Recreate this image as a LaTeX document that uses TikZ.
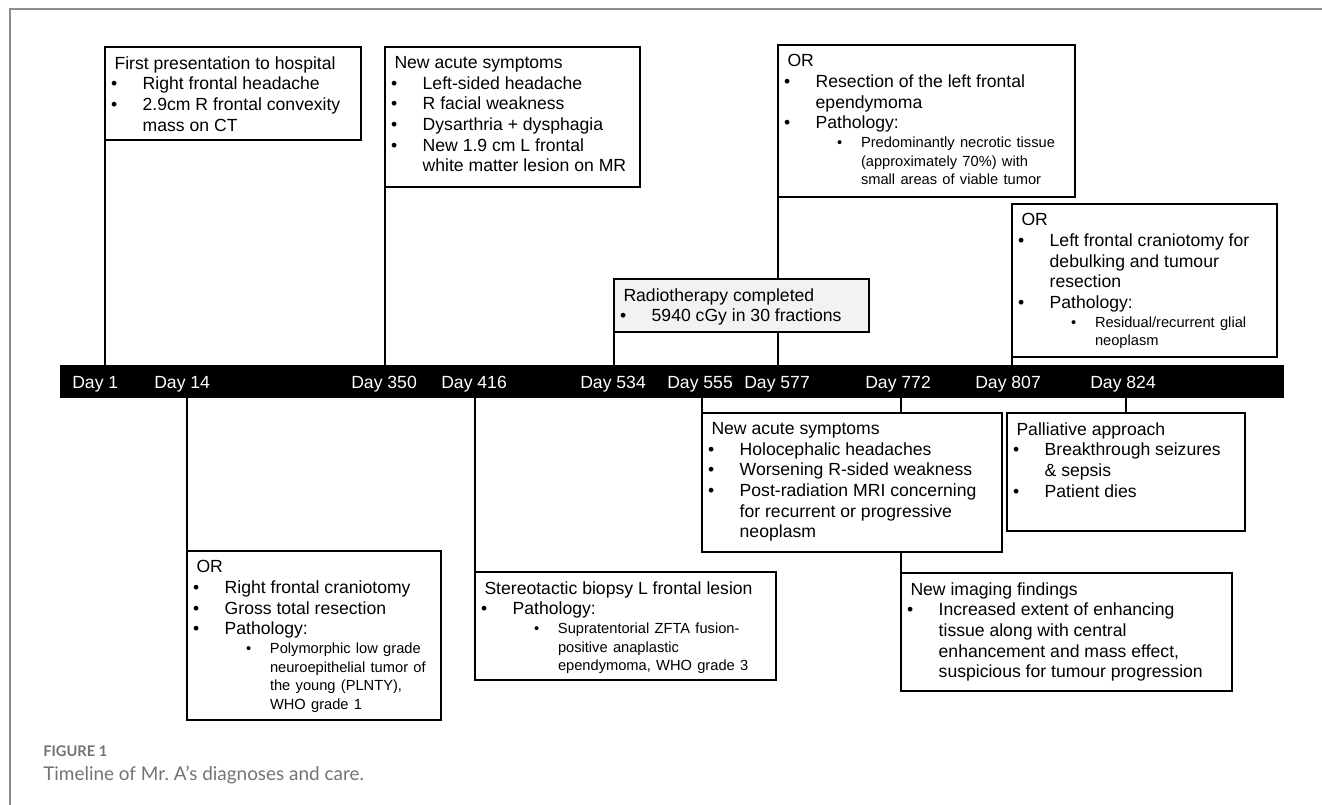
\documentclass[tikz,border=0pt]{standalone}
\usepackage{fontspec}
\setmainfont{Liberation Sans}
\newfontfamily\capfont{Lato}
\usepackage{tikz}
\usetikzlibrary{positioning,backgrounds}
\definecolor{myframe}{RGB}{140,140,140}
\definecolor{mycap}{RGB}{115,115,115}
\definecolor{myfill}{RGB}{242,242,242}

\newlength\px \setlength\px{0.75pt}
\newlength\bulw \setlength\bulw{31.7\px}
\newlength\subbw \setlength\subbw{53\px}
\newlength\subtw \setlength\subtw{77\px}
\newcommand\mainsize{\fontsize{13.2pt}{15.5pt}\selectfont}
\newcommand\subsize{\fontsize{11pt}{14pt}\selectfont}
\newcommand\boxtext[3]{\parbox[t][#2\px][t]{#1\px}{\mainsize\vspace*{9.5\px}\raggedright\leftskip=6\px\rightskip=0pt plus 2em minus 10\px\noindent\hspace*{3.5\px}#3\par}}
\newcommand\itm[1]{\par\hangindent=\bulw\hangafter=1\noindent\makebox[\bulw][l]{\textbullet}#1}
\newcommand\subitm[1]{\par\begingroup\subsize\spaceskip=0.36em plus 0.2em\hangindent=\subtw\hangafter=1\noindent\hspace*{\subbw}\makebox[\dimexpr\subtw-\subbw\relax][l]{\textbullet}#1\par\endgroup}

\tikzset{
		eventBox/.style = {draw, line width=2pt, fill=white, inner sep=0pt, outer sep=0pt, anchor=north west},
		radioBox/.style = {eventBox, fill=myfill},
		dayLabel/.style = {text=white, inner sep=0pt, anchor=base west, font=\mainsize},
		linkStyle/.style = {line width=1.5pt},
		frameLine/.style = {line width=0.8pt, color=myframe}
}

\begin{document}
\begin{tikzpicture}[x=0.75pt, y=-0.75pt]
  \useasboundingbox (0,0) rectangle (1322,805);
  \draw[frameLine] (10,805) -- (10,9) -- (1322,9);

  % timeline bar
  \node[fill=black, minimum width=1224\px, minimum height=33\px, inner sep=0pt, outer sep=0pt, anchor=north west] (bar) at (60,365) {};
  \foreach \x/\d in {72/1, 154/14, 351/350, 441/416, 580/534, 667/555, 744/577, 865/772, 975/807, 1090/824}
     \node[dayLabel] (day\d) at (\x,389) {Day \d};

  % above the bar
  \node[eventBox] (first) at (105,47) {\boxtext{256}{93}{First presentation to hospital
     \itm{Right frontal headache}
     \itm{2.9cm R frontal convexity\newline mass on CT}}};
  \node[eventBox] (acuteA) at (385,47) {\boxtext{255}{140}{New acute symptoms
     \itm{Left-sided headache}
     \itm{R facial weakness}
     \itm{Dysarthria + dysphagia}
     \itm{New 1.9 cm L frontal\newline white matter lesion on MR}}};
  \node[eventBox] (resect) at (778,45) {\boxtext{297}{152}{OR
     \itm{Resection of the left frontal\newline ependymoma}
     \itm{Pathology:}
     \subitm{Predominantly necrotic tissue\newline (approximately 70\%) with\newline small areas of viable tumor}}};
  \node[radioBox] (radio) at (614,279) {\boxtext{255}{53}{Radiotherapy completed
     \itm{5940 cGy in 30 fractions}}};
  \node[eventBox] (craniB) at (1012,204) {\boxtext{265}{153}{OR
     \itm{Left frontal craniotomy for\newline debulking and tumour\newline resection}
     \itm{Pathology:}
     \subitm{Residual/recurrent glial\newline neoplasm}}};

  % below the bar
  \node[eventBox] (craniA) at (187,551) {\boxtext{254}{169}{OR
     \itm{Right frontal craniotomy}
     \itm{Gross total resection}
     \itm{Pathology:}
     \subitm{Polymorphic low grade\newline neuroepithelial tumor of\newline the young (PLNTY),\newline WHO grade 1}}};
  \node[eventBox] (biopsy) at (475,572) {\boxtext{301}{108}{Stereotactic biopsy L frontal lesion
     \itm{Pathology:}
     \subitm{Supratentorial ZFTA fusion-\newline positive anaplastic\newline ependymoma, WHO grade 3}}};
  \node[eventBox] (acuteB) at (702,413) {\boxtext{300}{139}{New acute symptoms
     \itm{Holocephalic headaches}
     \itm{Worsening R-sided weakness}
     \itm{Post-radiation MRI concerning\newline for recurrent or progressive\newline neoplasm}}};
  \node[eventBox] (palli) at (1007,413) {\boxtext{238}{118}{Palliative approach
     \itm{Breakthrough seizures\newline \& sepsis}
     \itm{Patient dies}}};
  \node[eventBox] (imaging) at (901,573) {\boxtext{331}{118}{New imaging findings
     \itm{Increased extent of enhancing\newline tissue along with central\newline enhancement and mass effect,\newline suspicious for tumour progression}}};

  \begin{scope}[on background layer]
    \draw[linkStyle] (first.south west) -- (first.south west |- bar.north);
    \draw[linkStyle] (acuteA.south west) -- (acuteA.south west |- bar.north);
    \draw[linkStyle] (resect.south west) -- (resect.south west |- bar.north);
    \draw[linkStyle] (radio.south west) -- (radio.south west |- bar.north);
    \draw[linkStyle] (craniB.south west) -- (craniB.south west |- bar.north);
    \draw[linkStyle] (craniA.north west) -- (craniA.north west |- bar.south);
    \draw[linkStyle] (biopsy.north west) -- (biopsy.north west |- bar.south);
    \draw[linkStyle] (acuteB.north west) -- (acuteB.north west |- bar.south);
    \draw[linkStyle] (imaging.north west) -- (imaging.north west |- bar.south);
    \draw[linkStyle] (palli.north) -- (palli.north |- bar.south);
  \end{scope}

  % caption
  \node[anchor=base west, inner sep=0pt, text=mycap, font=\capfont\bfseries\fontsize{11pt}{13pt}\selectfont] (figHead) at (43,756) {FIGURE 1};
  \node[anchor=base west, inner sep=0pt, text=mycap, font=\capfont\fontsize{14.2pt}{16pt}\selectfont] (figCap) at (43,780) {Timeline of Mr.\ A’s diagnoses and care.};
\end{tikzpicture}
\end{document}
